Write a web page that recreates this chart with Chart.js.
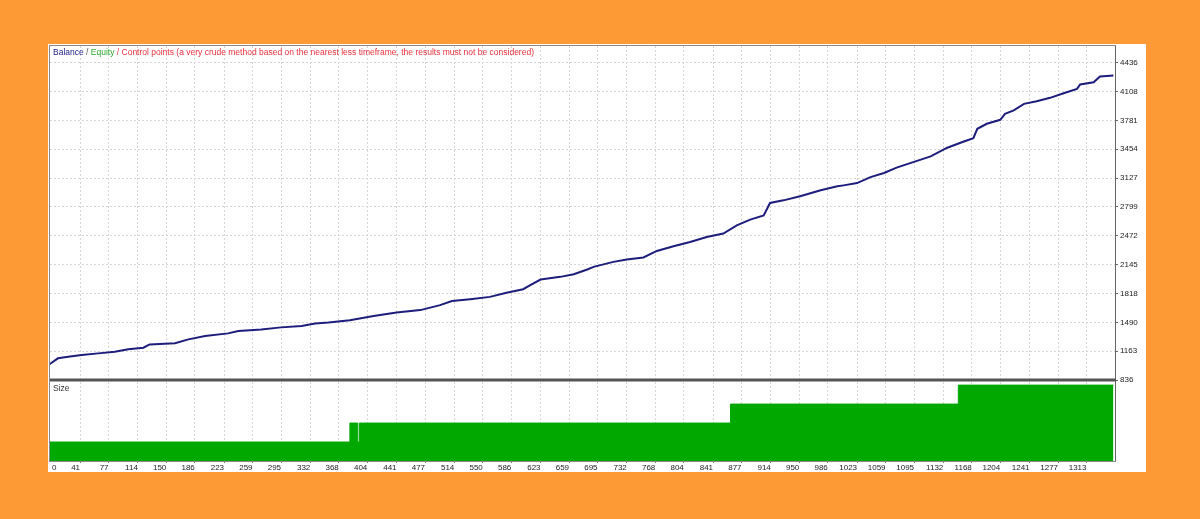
<!DOCTYPE html>
<html><head><meta charset="utf-8">
<script src="https://cdn.jsdelivr.net/npm/chart.js@4"></script>
<style>
html,body{margin:0;padding:0;background:#fe9a35;width:1200px;height:519px;overflow:hidden;}
#box{position:absolute;left:48px;top:44px;width:1098px;height:428px;background:#fff;}
canvas{display:block;}
</style></head><body>
<div id="box"><canvas id="c" width="1098" height="428"></canvas></div>
<script>
// ---- data ----
const balanceX = [0,13,26,43,64,85,102,121,129,161,178,199,228,241,270,295,321,338,355,382,412,441,471,496,511,534,559,580,601,610,623,648,665,682,690,715,732,753,770,791,812,833,854,871,888,905,913,930,951,977,998,1006,1023,1040,1057,1073,1094,1116,1137,1158,1170,1175,1187,1204,1210,1221,1234,1250,1267,1284,1301,1305,1322,1330,1347];
const balance = [1000,1082,1100,1119,1138,1156,1184,1202,1240,1252,1297,1334,1365,1391,1410,1433,1448,1478,1489,1515,1561,1603,1629,1685,1731,1753,1779,1825,1866,1912,1976,2006,2036,2090,2119,2176,2203,2226,2300,2353,2402,2459,2497,2591,2656,2704,2844,2874,2920,2988,3033,3044,3070,3138,3184,3245,3308,3373,3471,3542,3580,3686,3743,3788,3856,3894,3969,3999,4037,4089,4139,4188,4214,4279,4290];
const sizeX = [0,382,392,394,863,1151,1347];
const sizeLot = [0.01,0.02,0.01,0.02,0.03,0.04,0.04];
const xTicks = [0,41,77,114,150,186,223,259,295,332,368,404,441,477,514,550,586,623,659,695,732,768,804,841,877,914,950,986,1023,1059,1095,1132,1168,1204,1241,1277,1313];
const yTicks = [836,1163,1490,1818,2145,2472,2799,3127,3454,3781,4108,4436];
const legendParts = [
  ['Balance','#1b1b85'],
  [' / ','#555555'],
  ['Equity','#2eaa2e'],
  [' / Control points (a very crude method based on the nearest less timeframe, the results must not be considered)','#e8303a']
];
const sizeLabel = 'Size';

const X_MIN = 3, X_MAX = 1349;
const Y_MIN = 836, Y_MAX = 4625;
const SIZE_MAX = 0.0427;
const FONT = {family:'"Liberation Sans", Arial, sans-serif', size:8};

function noPad(s){ s.paddingTop = 0; s.paddingBottom = 0; s.paddingLeft = 0; s.paddingRight = 0; }

const frame = {
  id:'frame',
  afterDraw(chart){
    const {ctx, chartArea:a, scales} = chart;
    ctx.save();
    ctx.strokeStyle = '#8a8a8a'; ctx.lineWidth = 1;
    ctx.strokeRect(a.left - 0.5, a.top - 0.5, a.right - a.left + 1, a.bottom - a.top + 1);
    ctx.strokeStyle = '#666';
    ctx.beginPath(); ctx.moveTo(a.right + 0.5, a.top); ctx.lineTo(a.right + 0.5, a.bottom); ctx.stroke();
    const ySep = scales.y.bottom;
    ctx.fillStyle = '#555';
    ctx.fillRect(a.left, ySep - 1.5, a.right - a.left + 1, 3);
    ctx.font = '8.5px "Liberation Sans", Arial, sans-serif';
    ctx.textBaseline = 'top';
    let x = a.left + 3; const y = a.top + 2;
    for (const [t, col] of legendParts) { ctx.fillStyle = col; ctx.fillText(t, x, y); x += ctx.measureText(t).width; }
    ctx.fillStyle = '#333';
    ctx.fillText(sizeLabel, a.left + 3, ySep + 4);
    ctx.restore();
  }
};

new Chart(document.getElementById('c'), {
  type:'line',
  data:{ datasets:[
    { label:'Balance', data: balanceX.map((x,i)=>({x, y:balance[i]})), yAxisID:'y',
      borderColor:'#1d1d7c', borderWidth:2, pointRadius:0, tension:0, fill:false, order:0 },
    { label:'Size', data: sizeX.map((x,i)=>({x, y:sizeLot[i]})), yAxisID:'y2', stepped:true,
      borderColor:'#00a800', borderWidth:1, backgroundColor:'#00a800', fill:'origin', pointRadius:0, order:1 }
  ]},
  options:{
    responsive:false, animation:false,
    layout:{padding:{left:2, top:2, right:0, bottom:0}},
    plugins:{legend:{display:false}, tooltip:{enabled:false}},
    scales:{
      x:{ type:'linear', min:X_MIN, max:X_MAX, position:'bottom',
        afterBuildTicks(s){ s.ticks = xTicks.map((v,i)=>({value: i===0 ? X_MIN+8 : v})); },
        afterFit(s){ s.height = 11; noPad(s); },
        ticks:{ align:'end', autoSkip:false, maxRotation:0, minRotation:0, padding:0, font:FONT, color:'#222',
          callback:(v,i)=>String(xTicks[i]) },
        grid:{ color:c=> c.index===0 ? 'rgba(0,0,0,0)' : '#d6d6d6', lineWidth:1, tickLength:2,
          tickColor:c=> c.index===0 ? 'rgba(0,0,0,0)' : '#777' },
        border:{ display:false, dash:[2,2] }
      },
      y:{ type:'linear', position:'right', stack:'pane', stackWeight:334, min:Y_MIN, max:Y_MAX,
        afterBuildTicks(s){ s.ticks = yTicks.map(v=>({value:v})); },
        afterFit(s){ s.width = 31; noPad(s); },
        ticks:{ padding:2, font:FONT, color:'#222', callback:v=>String(v) },
        grid:{ color:c=> (c.tick && c.tick.value===Y_MIN) ? 'rgba(0,0,0,0)' : '#d6d6d6', tickLength:3, tickColor:'#666' },
        border:{ display:false, dash:[2,2] }
      },
      y2:{ type:'linear', position:'right', stack:'pane', stackWeight:81, min:0, max:SIZE_MAX,
        afterFit(s){ s.width = 31; noPad(s); },
        ticks:{display:false}, grid:{display:false}, border:{display:false}
      }
    }
  },
  plugins:[frame]
});
</script>
</body></html>
